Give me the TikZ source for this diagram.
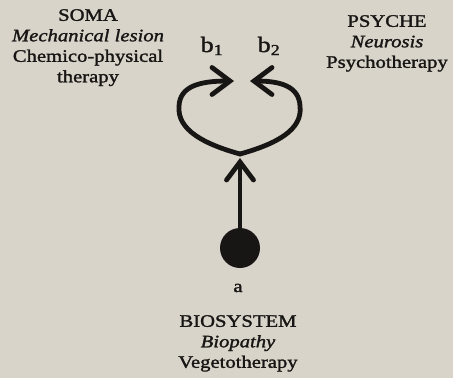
\documentclass[tikz,border=0pt]{standalone}
\usepackage{fontspec}
\setmainfont{Liberation Serif}[FakeStretch=1.18,FakeBold=1.6]
\usetikzlibrary{arrows.meta}
\definecolor{paper}{RGB}{217,212,202}
\definecolor{ink}{RGB}{24,22,20}
\tikzset{
  lbl/.style={align=center, inner sep=0pt, text=ink, font=\fontsize{17.5}{20.5}\selectfont},
  arr/.style={draw=ink, line width=4.8pt, line cap=round,
     -{Straight Barb[length=18pt,width=27pt,line cap=round]}},
}
\begin{document}
\begin{tikzpicture}[x=1pt,y=-1pt]
\fill[paper] (0,0) rectangle (453,378);
\useasboundingbox (0,0) rectangle (453,378);
% labels
\node[lbl, anchor=north] (soma) at (88,9) {SOMA\\\itshape Mechanical lesion\\Chemico-physical\\therapy};
\node[lbl, anchor=north] (psyche) at (387,15) {PSYCHE\\\itshape Neurosis\\Psychotherapy};
\node[lbl, anchor=base, font=\fontsize{22}{24}\selectfont] (b1) at (212,52) {b\textsubscript{1}};
\node[lbl, anchor=base, font=\fontsize{22}{24}\selectfont] (b2) at (269,52) {b\textsubscript{2}};
\node[lbl, anchor=base] (alabel) at (238,292) {a};
\node[lbl, anchor=north] (bio) at (238,315) {BIOSYSTEM\\\itshape Biopathy\\Vegetotherapy};
% graph
\node[circle, fill=ink, minimum size=40pt, inner sep=0pt] (src) at (240,248) {};
\coordinate (j) at (240,154);
\coordinate (jt) at (240,158);
\coordinate (tL) at (234,81);
\coordinate (tR) at (250,81);
\draw[arr] (src.center) -- (jt);
\draw[arr] (j) .. controls (204,144) and (177,130) .. (179,106) .. controls (180,86) and (200,81) .. (tL);
\draw[arr] (j) .. controls (276,144) and (303,130) .. (300,106) .. controls (299,86) and (280,81) .. (tR);
\end{tikzpicture}
\end{document}
